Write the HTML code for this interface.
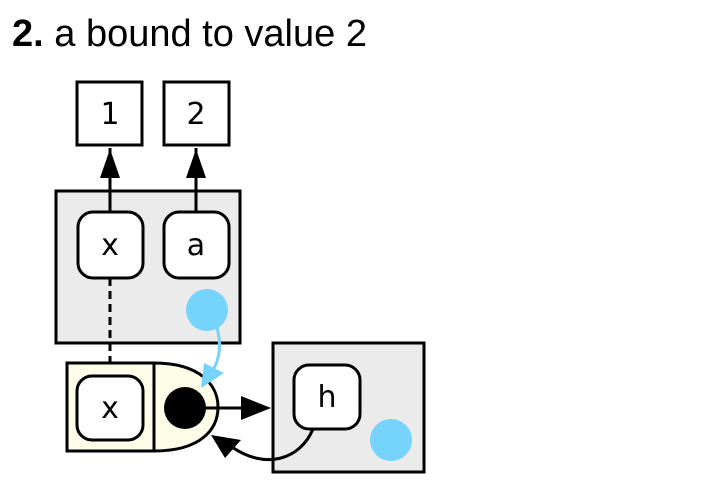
<!DOCTYPE html>
<html><head><meta charset="utf-8"><style>
body{margin:0;background:#fff;width:727px;height:491px;overflow:hidden}
svg{display:block}
</style></head><body>
<svg width="727" height="491" viewBox="0 0 727 491">
<text x="12" y="46" font-family="Liberation Sans, sans-serif" font-size="38" fill="#000"><tspan font-weight="bold">2.</tspan> a bound to value 2</text>
<g font-family="DejaVu Sans, sans-serif" font-size="30" text-anchor="middle">
<rect x="77" y="82" width="65" height="63" fill="#fff" stroke="#000" stroke-width="3"/>
<text x="110" y="124">1</text>
<rect x="164" y="82" width="65" height="63" fill="#fff" stroke="#000" stroke-width="3"/>
<text x="196" y="124">2</text>
<rect x="56" y="191" width="184" height="152" fill="#ebebeb" stroke="#000" stroke-width="3"/>
<line x1="110" y1="211" x2="110" y2="148" stroke="#000" stroke-width="3"/>
<path d="M100,178 L110,149 L120,178 z" fill="#000"/>
<line x1="196" y1="211" x2="196" y2="148" stroke="#000" stroke-width="3"/>
<path d="M186,178 L196,149 L206,178 z" fill="#000"/>
<rect x="78" y="212" width="65" height="66" rx="15" fill="#fff" stroke="#000" stroke-width="3"/>
<text x="110" y="255">x</text>
<rect x="164" y="212" width="65" height="66" rx="15" fill="#fff" stroke="#000" stroke-width="3"/>
<text x="196" y="255">a</text>
<circle cx="207" cy="310" r="21" fill="#76d3fc"/>
<line x1="110" y1="278" x2="110" y2="376" stroke="#000" stroke-width="3" stroke-dasharray="8,5"/>
<path d="M67,363 L154,363 C200,363 218,385 218,407 C218,430 200,451 154,451 L67,451 z" fill="#fdfde8" stroke="#000" stroke-width="3"/>
<line x1="154" y1="363" x2="154" y2="451" stroke="#000" stroke-width="3"/>
<rect x="77" y="376" width="66" height="64" rx="15" fill="#fff" stroke="#000" stroke-width="3"/>
<text x="110" y="418">x</text>
<circle cx="185" cy="408" r="21" fill="#000"/>
<path d="M217,328 C222,345 219,360 213,370" fill="none" stroke="#76d3fc" stroke-width="3"/>
<path d="M201,388 L204,363 L224,373 z" fill="#76d3fc"/>
<line x1="200" y1="408" x2="244" y2="408" stroke="#000" stroke-width="3"/>
<path d="M241,396 L271,408 L241,420 z" fill="#000"/>
<rect x="273" y="343" width="151" height="129" fill="#ebebeb" stroke="#000" stroke-width="3"/>
<rect x="294" y="365" width="66" height="64" rx="15" fill="#fff" stroke="#000" stroke-width="3"/>
<text x="327" y="407">h</text>
<circle cx="391" cy="440" r="21" fill="#76d3fc"/>
<path d="M313,429 C300,460 265,470 232,447" fill="none" stroke="#000" stroke-width="3"/>
<path d="M211,435 L241,440 L225,458 z" fill="#000"/>
</g>
</svg>
</body></html>
